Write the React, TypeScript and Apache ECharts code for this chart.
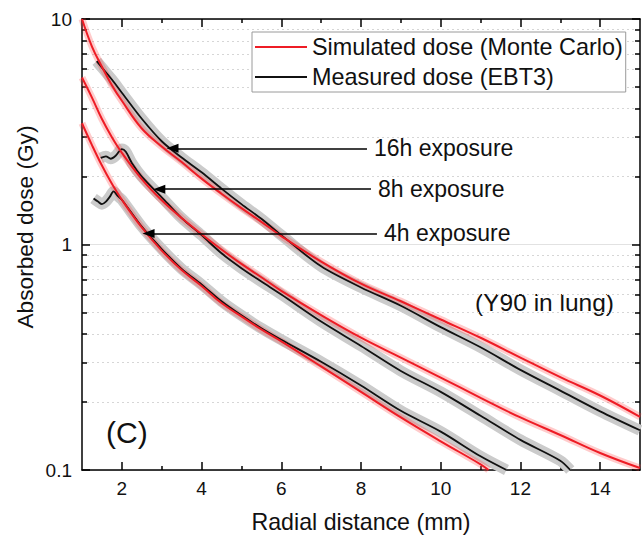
import React, { useEffect, useRef } from 'react';
import * as echarts from 'echarts';

const FONT = '"Liberation Sans", Arial, Helvetica, sans-serif';

const xTicksMajor = [2, 4, 6, 8, 10, 12, 14];
const xTicksMinor = [3, 5, 7, 9, 11, 13];
const yTicksMajor = [0.1, 1, 10];
const yTicksMinor = [0.2, 0.3, 0.4, 0.5, 0.6, 0.7, 0.8, 0.9, 2, 3, 4, 5, 6, 7, 8, 9];

// Simulated dose (Monte Carlo)
const sim16X = [1, 1.25, 1.5, 1.75, 2, 2.5, 3, 3.5, 4, 4.5, 5, 5.5, 6, 7, 8, 9, 10, 11, 12, 13, 14, 15];
const sim16Y = [10, 7.55, 6.14, 5.09, 4.34, 3.27, 2.72, 2.32, 1.96, 1.68, 1.45, 1.26, 1.09, 0.84, 0.67, 0.56, 0.465, 0.386, 0.315, 0.258, 0.214, 0.172];
const sim8X = [1, 1.25, 1.5, 1.75, 2, 2.5, 3, 3.5, 4, 4.5, 5, 5.5, 6, 7, 8, 9, 10, 11, 12, 13, 14, 15];
const sim8Y = [5.5, 4.48, 3.6, 2.99, 2.55, 1.95, 1.57, 1.31, 1.11, 0.95, 0.82, 0.716, 0.623, 0.486, 0.386, 0.315, 0.257, 0.209, 0.171, 0.143, 0.119, 0.102];
const sim4X = [1, 1.25, 1.5, 1.75, 2, 2.5, 3, 3.5, 4, 4.5, 5, 5.5, 6, 7, 8, 9, 10, 11, 11.2];
const sim4Y = [3.45, 2.76, 2.24, 1.86, 1.58, 1.19, 0.94, 0.77, 0.655, 0.55, 0.48, 0.42, 0.372, 0.288, 0.222, 0.171, 0.134, 0.106, 0.1];

// Measured dose (EBT3)
const meas16X = [1.37, 1.5, 1.75, 2, 2.5, 3, 3.5, 4, 4.5, 5, 5.5, 6, 7, 8, 9, 10, 11, 12, 13, 14, 15];
const meas16Y = [6.5, 6.09, 5.39, 4.71, 3.61, 2.87, 2.43, 2.09, 1.77, 1.51, 1.3, 1.1, 0.8, 0.645, 0.535, 0.43, 0.35, 0.278, 0.225, 0.182, 0.15];
const meas8X = [1.47, 1.6, 1.72, 1.85, 2, 2.1, 2.25, 2.5, 3, 3.5, 4, 4.5, 5, 5.5, 6, 7, 8, 9, 10, 11, 12, 13, 13.25];
const meas8Y = [2.42, 2.46, 2.4, 2.48, 2.65, 2.58, 2.3, 2.0, 1.62, 1.31, 1.1, 0.914, 0.785, 0.685, 0.6, 0.455, 0.355, 0.275, 0.222, 0.174, 0.136, 0.11, 0.1];
const meas4X = [1.29, 1.4, 1.5, 1.6, 1.7, 1.79, 1.9, 2, 2.5, 3, 3.5, 4, 4.5, 5, 5.5, 6, 7, 8, 9, 10, 11, 11.65];
const meas4Y = [1.6, 1.55, 1.51, 1.55, 1.63, 1.72, 1.64, 1.58, 1.2, 0.955, 0.78, 0.665, 0.56, 0.485, 0.425, 0.378, 0.302, 0.237, 0.183, 0.148, 0.115, 0.1];

// Arrow annotations
const arrowLabels = ['16h exposure', '8h exposure', '4h exposure'];
const arrowTipX = [3.27, 2.94, 2.67];
const arrowTipY = [2.67, 1.76, 1.12];
const arrowEndX = [8.15, 8.25, 8.4];

const SIM_NAME = 'Simulated dose (Monte Carlo)';
const MEAS_NAME = 'Measured dose (EBT3)';

const pairs = (xs: number[], ys: number[]) => xs.map((x, i) => [x, ys[i]]);

export default function App() {
  const ref = useRef<HTMLDivElement>(null);
  useEffect(() => {
    if (!ref.current) return;
    const chart = echarts.init(ref.current, null, { renderer: 'svg' });

    const simSets = [pairs(sim16X, sim16Y), pairs(sim8X, sim8Y), pairs(sim4X, sim4Y)];
    const measSets = [pairs(meas16X, meas16Y), pairs(meas8X, meas8Y), pairs(meas4X, meas4Y)];

    const base = { type: 'line', symbol: 'none', silent: true, xAxisIndex: 0, yAxisIndex: 0 };
    const series: any[] = [];
    measSets.forEach((d) =>
      series.push({ ...base, smooth: 0.3, name: 'measBand', data: d, lineStyle: { width: 11, color: '#cbcbcb', cap: 'butt', join: 'round' }, z: 1 })
    );
    simSets.forEach((d) =>
      series.push({ ...base, smooth: 0.4, name: 'simBand', data: d, lineStyle: { width: 7, color: 'rgba(255,70,70,0.28)', cap: 'butt', join: 'round' }, z: 2 })
    );
    measSets.forEach((d) =>
      series.push({ ...base, smooth: 0.3, name: MEAS_NAME, data: d, lineStyle: { width: 1.8, color: '#111' }, itemStyle: { color: '#111' }, z: 3 })
    );
    simSets.forEach((d) =>
      series.push({ ...base, smooth: 0.4, name: SIM_NAME, data: d, lineStyle: { width: 2, color: '#ee1c25' }, itemStyle: { color: '#ee1c25' }, z: 4 })
    );
    series.push({
      type: 'line',
      name: 'arrows',
      data: [],
      silent: true,
      z: 5,
      markLine: {
        silent: true,
        symbol: ['triangle', 'none'],
        symbolSize: [9, 12],
        lineStyle: { color: '#000', width: 1.5, type: 'solid' },
        label: { show: true, position: 'end', formatter: '{b}', fontSize: 23, fontFamily: FONT, color: '#111', distance: 7 },
        data: arrowLabels.map((t, i) => [
          { coord: [arrowTipX[i], arrowTipY[i]], name: t },
          { coord: [arrowEndX[i], arrowTipY[i]] },
        ]),
      },
    });

    const tickStyle = { color: '#000', width: 1.5 };
    const xCommon = { type: 'value', min: 1, max: 15, splitLine: { show: false } };
    const yCommon = { type: 'log', logBase: 10, min: 0.1, max: 10 };

    const option: any = {
      animation: false,
      backgroundColor: '#fff',
      grid: { left: 82, right: 2, top: 19, bottom: 68 },
      legend: {
        data: [SIM_NAME, MEAS_NAME],
        orient: 'vertical',
        left: 252,
        top: 32,
        padding: [2, 3, 2, 3],
        itemGap: 4,
        itemWidth: 52,
        itemHeight: 2,
        icon: 'rect',
        borderColor: '#9a9a9a',
        borderWidth: 1,
        backgroundColor: '#fff',
        textStyle: { fontSize: 23.4, fontFamily: FONT, color: '#111', lineHeight: 26 },
        z: 10,
      },
      xAxis: [
        {
          ...xCommon,
          position: 'bottom',
          axisLine: { show: true, lineStyle: tickStyle },
          axisTick: { show: true, inside: true, length: 8, lineStyle: tickStyle, customValues: xTicksMajor },
          axisLabel: { show: true, customValues: xTicksMajor, fontSize: 19, fontFamily: FONT, color: '#111', margin: 9 },
          name: 'Radial distance (mm)',
          nameLocation: 'middle',
          nameGap: 40,
          nameTextStyle: { fontSize: 23.2, fontFamily: FONT, color: '#111' },
        },
        {
          ...xCommon,
          position: 'bottom',
          axisLine: { show: false },
          axisTick: { show: true, inside: true, length: 4, lineStyle: tickStyle, customValues: xTicksMinor },
          axisLabel: { show: false },
        },
        {
          ...xCommon,
          position: 'top',
          axisLine: { show: true, lineStyle: tickStyle },
          axisTick: { show: true, inside: true, length: 8, lineStyle: tickStyle, customValues: xTicksMajor },
          axisLabel: { show: false },
        },
        {
          ...xCommon,
          position: 'top',
          axisLine: { show: false },
          axisTick: { show: true, inside: true, length: 4, lineStyle: tickStyle, customValues: xTicksMinor },
          axisLabel: { show: false },
        },
      ],
      yAxis: [
        {
          ...yCommon,
          position: 'left',
          axisLine: { show: true, lineStyle: tickStyle },
          axisTick: { show: true, inside: true, length: 8, lineStyle: tickStyle, customValues: yTicksMajor },
          axisLabel: { show: true, customValues: yTicksMajor, fontSize: 19, fontFamily: FONT, color: '#111', margin: 10 },
          splitLine: { show: true, lineStyle: { color: '#e2e2e2', width: 1, type: 'solid' } },
        },
        {
          ...yCommon,
          position: 'left',
          axisLine: { show: false },
          axisTick: { show: true, inside: true, length: 5, lineStyle: tickStyle, customValues: yTicksMinor },
          axisLabel: { show: false },
          splitLine: { show: true, lineStyle: { color: '#d6d6d6', width: 1, type: [2, 3] } },
        },
        {
          ...yCommon,
          position: 'right',
          axisLine: { show: true, lineStyle: tickStyle },
          axisTick: { show: true, inside: true, length: 8, lineStyle: tickStyle, customValues: yTicksMajor },
          axisLabel: { show: false },
          splitLine: { show: false },
        },
        {
          ...yCommon,
          position: 'right',
          axisLine: { show: false },
          axisTick: { show: true, inside: true, length: 5, lineStyle: tickStyle, customValues: yTicksMinor },
          axisLabel: { show: false },
          splitLine: { show: false },
        },
      ],
      graphic: [
        {
          type: 'text',
          x: 25,
          y: 227,
          rotation: Math.PI / 2,
          style: { text: 'Absorbed dose (Gy)', fontSize: 22.7, fontFamily: FONT, fill: '#111', textAlign: 'center', textVerticalAlign: 'middle' },
        },
        {
          type: 'text',
          x: 106,
          y: 432,
          style: { text: '(C)', fontSize: 30, fontFamily: FONT, fill: '#111', textAlign: 'left', textVerticalAlign: 'middle' },
        },
        {
          type: 'text',
          x: 614,
          y: 302,
          style: { text: '(Y90 in lung)', fontSize: 24.5, fontFamily: FONT, fill: '#111', textAlign: 'right', textVerticalAlign: 'middle' },
        },
      ],
      series,
    };
    chart.setOption(option);
    return () => chart.dispose();
  }, []);
  return <div ref={ref} style={{ position: 'fixed', left: 0, top: 0, width: 642, height: 538, background: '#fff' }} />;
}
